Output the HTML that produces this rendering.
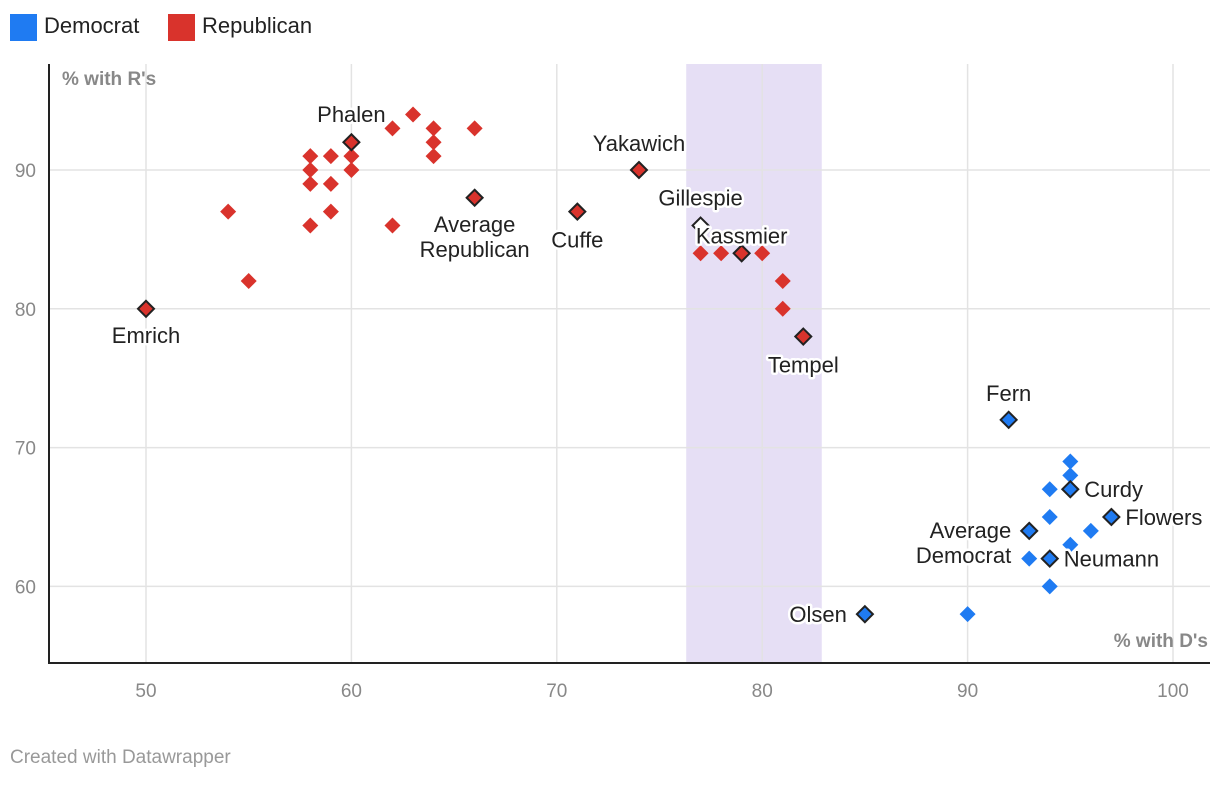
<!DOCTYPE html>
<html><head><meta charset="utf-8"><style>
body{margin:0;background:#fff;font-family:"Liberation Sans",Roboto,sans-serif;}
svg text{font-family:"Liberation Sans",sans-serif;}
.lbl{font-size:22px;fill:#222;paint-order:stroke;stroke:#fff;stroke-width:5px;stroke-linejoin:round;}
</style></head><body>
<svg id="c" width="1220" height="782"></svg>
<script>
const repX=[54,55,58,58,58,58,59,59,59,60,60,62,62,63,64,64,64,66,77,78,80,81,81];
const repY=[87,82,91,90,89,86,91,89,87,91,90,93,86,94,93,92,91,93,84,84,84,82,80];
const demX=[90,93,94,94,94,95,95,95,96];
const demY=[58,62,60,65,67,69,68,63,64];
const hlNames=["Emrich","Phalen","Average Republican","Cuffe","Yakawich","Gillespie","Kassmier","Tempel","Fern","Curdy","Flowers","Average Democrat","Neumann","Olsen"];
const hlX=[50,60,66,71,74,77,79,82,92,95,97,93,94,85];
const hlY=[80,92,88,87,90,86,84,78,72,67,65,64,62,58];
const hlParty=["R","R","R","R","R","R","R","R","D","D","D","D","D","D"];
const xTicks=[50,60,70,80,90,100];
const yTicks=[60,70,80,90];
const band=[76.3,82.9];
const NS="http://www.w3.org/2000/svg";
const svg=document.getElementById('c');
const X=v=>146+(v-50)*20.54;
const Y=v=>170-(v-90)*13.88;
function el(t,a,p){const e=document.createElementNS(NS,t);for(const k in a)e.setAttribute(k,a[k]);(p||svg).appendChild(e);return e;}
function txt(s,a){const e=el('text',a);e.textContent=s;return e;}
let r=el('rect',{x:10,y:14,width:27,height:27,fill:'#1f7bf2'});
let t=txt('Democrat',{x:44,y:33,'font-size':22,fill:'#222'});
r=el('rect',{x:168,y:14,width:27,height:27,fill:'#d9332c'});
t=txt('Republican',{x:202,y:33,'font-size':22,fill:'#222'});
r=el('rect',{x:X(band[0]),y:64,width:X(band[1])-X(band[0]),height:599,fill:'#e6dff5'});
xTicks.forEach(v=>{const l=el('line',{x1:X(v),x2:X(v),y1:64,y2:663,stroke:'#e3e3e3','stroke-width':1.5});
 const tt=txt(v,{x:X(v),y:697,'font-size':19,fill:'#888','text-anchor':'middle'});});
yTicks.forEach(v=>{const l=el('line',{x1:48,x2:1210,y1:Y(v),y2:Y(v),stroke:'#e3e3e3','stroke-width':1.5});
 const tt=txt(v,{x:36,y:Y(v)+7,'font-size':19,fill:'#888','text-anchor':'end'});});
let a=el('line',{x1:49,x2:49,y1:64,y2:663,stroke:'#222','stroke-width':2});
a=el('line',{x1:48,x2:1210,y1:663,y2:663,stroke:'#222','stroke-width':2});
t=txt("% with R's",{x:62,y:85,'font-size':19,'font-weight':'bold',fill:'#888'});
t=txt("% with D's",{x:1208,y:647,'font-size':19,'font-weight':'bold',fill:'#888','text-anchor':'end'});
function dia(x,y,s,fill,stroke){return el('path',{d:`M${x} ${y-s}L${x+s} ${y}L${x} ${y+s}L${x-s} ${y}Z`,fill:fill,stroke:stroke||'none','stroke-width':stroke?2:0});}
repX.forEach((v,i)=>{const p=dia(X(v),Y(repY[i]),8,'#d9332c');});
demX.forEach((v,i)=>{const p=dia(X(v),Y(demY[i]),8,'#1f7bf2');});
const lblPos={"Emrich":[0,34,'middle'],"Phalen":[0,-20,'middle'],"Average Republican":[0,46,'middle'],"Cuffe":[0,36,'middle'],"Yakawich":[0,-19,'middle'],"Gillespie":[0,-20,'middle'],"Kassmier":[0,-10,'middle'],"Tempel":[0,36,'middle'],"Fern":[0,-19,'middle'],"Curdy":[14,8,'start'],"Flowers":[14,8,'start'],"Average Democrat":[-18,19,'end'],"Neumann":[14,8,'start'],"Olsen":[-18,8,'end']};
hlX.forEach((v,i)=>{const fill=hlNames[i]=="Gillespie"?'#fff':(hlParty[i]=="R"?'#d9332c':'#1f7bf2');
 const p=dia(X(v),Y(hlY[i]),8,fill,'#222');});
hlX.forEach((v,i)=>{const n=hlNames[i],o=lblPos[n];const x=X(v)+o[0],y=Y(hlY[i])+o[1];
 const g=el('text',{x:x,y:y,'text-anchor':o[2],class:'lbl'});
 if(n.startsWith('Average ')){const w=n.split(' ');
  const s1=el('tspan',{x:x,dy:-12},g);s1.textContent=w[0];const s2=el('tspan',{x:x,dy:25},g);s2.textContent=w[1];
 } else g.textContent=n;});
t=txt('Created with Datawrapper',{x:10,y:763,'font-size':19,fill:'#999'});
</script>
</body></html>
